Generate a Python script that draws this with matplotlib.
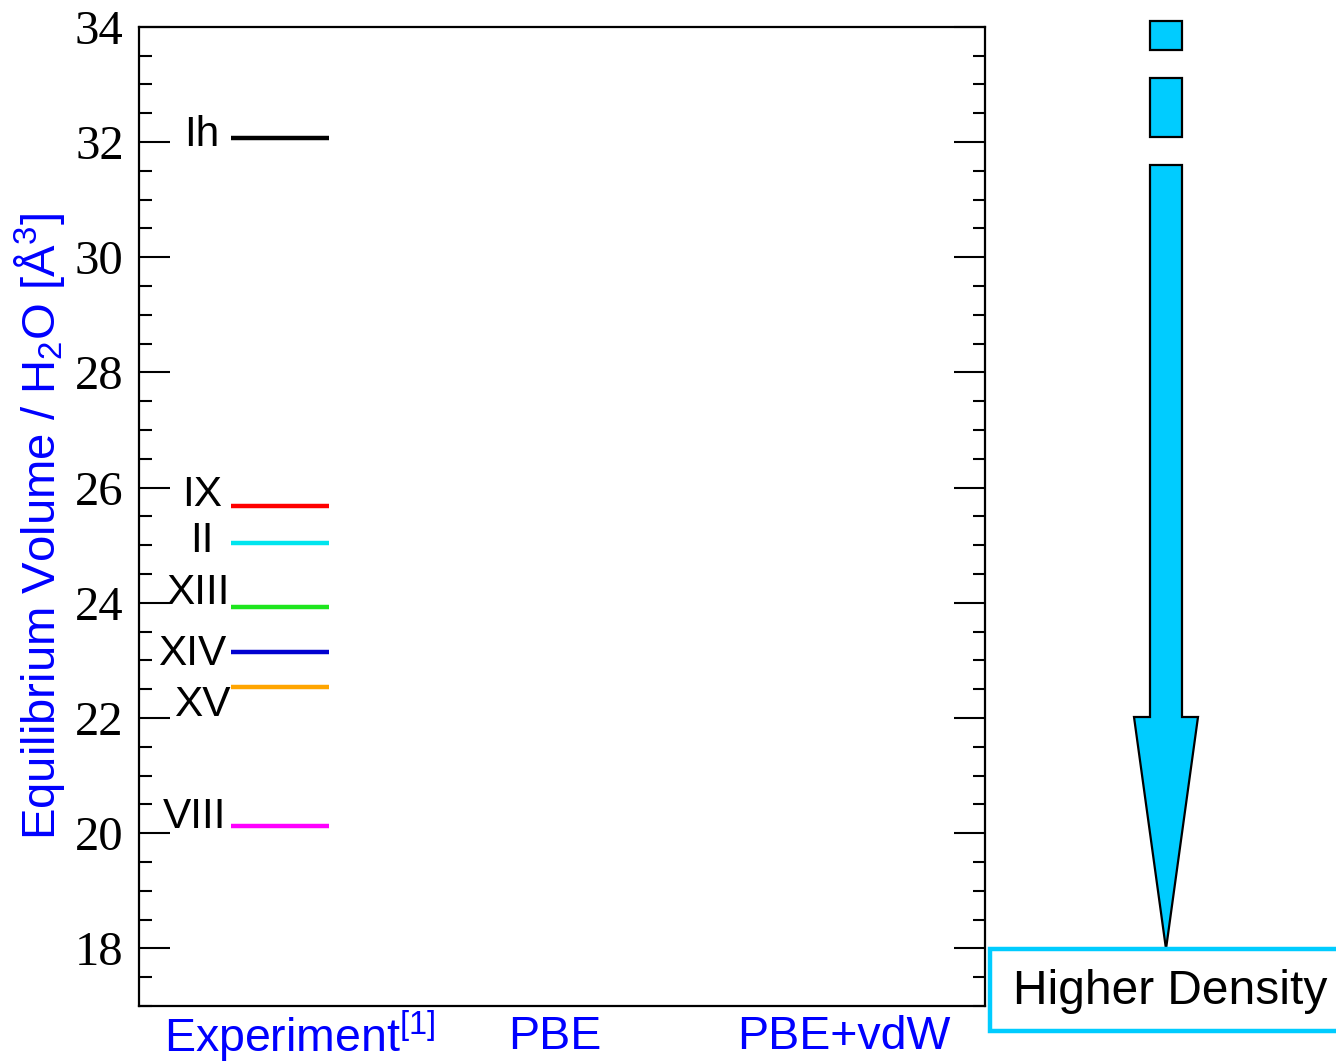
import numpy as np
import matplotlib
matplotlib.use("Agg")
import matplotlib.pyplot as plt
from matplotlib.patches import Polygon, Rectangle
from matplotlib.ticker import MultipleLocator

plt.rcParams['font.family'] = ['Liberation Sans', 'DejaVu Sans']
plt.rcParams['mathtext.fontset'] = 'custom'
plt.rcParams['mathtext.rm'] = 'Liberation Sans'
plt.rcParams['mathtext.it'] = 'Liberation Sans:italic'
plt.rcParams['mathtext.bf'] = 'Liberation Sans:bold'

# experimental equilibrium volumes per H2O (A^3)
phases = ['Ih', 'IX', 'II', 'XIII', 'XIV', 'XV', 'VIII']
volumes = [32.07, 25.68, 25.04, 23.93, 23.15, 22.54, 20.12]
phase_colors = ['black', '#ff0000', '#00e5ee', '#1ee61e', '#0000d0', '#ffa500', '#ff00ff']

methods = ['Experiment$^{[1]}$', 'PBE', 'PBE+vdW']

fig = plt.figure(figsize=(13.36, 10.62), dpi=100)
ax = fig.add_axes([0.104, 0.0527, 0.633, 0.922])

ax.set_xlim(0, 3)
ax.set_ylim(17, 34)

# levels for the experiment column
half = 0.175
for v, c in zip(volumes, phase_colors):
    ax.hlines(v, 0.5 - half, 0.5 + half, color=c, lw=3.2)

# phase names next to each level (nudged so they don't collide)
nudges = [(-8, 2), (-6, 8), (-12, 1.5), (-1, 10), (-3, -1.5), (0, -13), (-3, 7)]
for name, v, (dx, dy) in zip(phases, volumes, nudges):
    ax.annotate(name, (0.5 - half, v), xytext=(dx, dy), textcoords='offset points',
                ha='right', va='center', fontsize=30.5, color='black')

for sp in ax.spines.values():
    sp.set_linewidth(1.6)

ax.yaxis.set_major_locator(MultipleLocator(2))
ax.yaxis.set_minor_locator(MultipleLocator(0.5))
ax.tick_params(axis='y', which='both', direction='in', left=True, right=True, width=1.5)
ax.tick_params(axis='y', which='major', length=22, pad=11)
ax.tick_params(axis='y', which='minor', length=9)
ax.set_xticks([])
for lab in ax.get_yticklabels():
    lab.set_fontfamily('Liberation Serif')
    lab.set_fontsize(35)

ax.set_ylabel('Equilibrium Volume / H$_2$O [Å$^3$]', color='blue', fontsize=34, labelpad=6)
ax.yaxis.label.set_y(0.49)

# method names under the axis
xpos = [0.5, 1.5, 2.5]
shifts = [14, -5, 0]
for x, m, s in zip(xpos, methods, shifts):
    ax.annotate(m, (x, 0), xycoords=('data', 'axes fraction'), xytext=(s, -22),
                textcoords='offset points', ha='center', va='center',
                fontsize=33.5, color='blue', annotation_clip=False)

# density arrow and caption, drawn in pixel space
ov = fig.add_axes([0, 0, 1, 1], zorder=5)
ov.set_xlim(0, 1336)
ov.set_ylim(1062, 0)
ov.axis('off')

cyan = '#00ccff'
for y0, y1 in [(21, 50), (78, 137)]:
    ov.add_patch(Rectangle((1150, y0), 32, y1 - y0, fc=cyan, ec='black', lw=1.6))
arrow = [(1150, 165), (1182, 165), (1182, 717), (1198, 717), (1166, 949),
         (1134, 717), (1150, 717)]
ov.add_patch(Polygon(arrow, closed=True, fc=cyan, ec='black', lw=1.6))

ov.add_patch(Rectangle((990, 949), 360, 82, fc='white', ec=cyan, lw=3.2))
ov.text(1170, 992, 'Higher Density', ha='center', va='center', fontsize=34.5, color='black')

fig.savefig('out.png', dpi=100)
